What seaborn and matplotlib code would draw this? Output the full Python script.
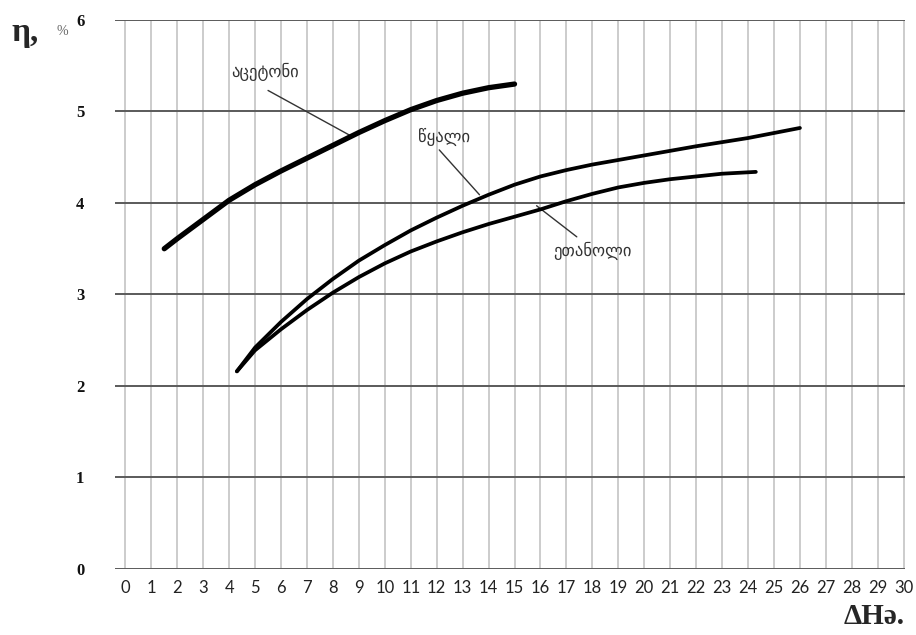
import pandas as pd
import numpy as np
import matplotlib
matplotlib.use('Agg')
import matplotlib.pyplot as plt
import seaborn as sns

# curves (dH vs efficiency, %)
acetone_x = [1.5, 2, 3, 4, 5, 6, 7, 8, 9, 10, 11, 12, 13, 14, 15]
acetone_y = [3.50, 3.61, 3.82, 4.03, 4.20, 4.35, 4.49, 4.63, 4.77, 4.90, 5.02, 5.12, 5.20, 5.26, 5.30]

water_x = [4.3, 5, 6, 7, 8, 9, 10, 11, 12, 13, 14, 15, 16, 17, 18, 20, 22, 24, 26]
water_y = [2.16, 2.42, 2.70, 2.95, 3.17, 3.37, 3.54, 3.70, 3.84, 3.97, 4.09, 4.20, 4.29, 4.36, 4.42, 4.52, 4.62, 4.71, 4.82]

ethanol_x = [4.3, 5, 6, 7, 8, 9, 10, 11, 12, 13, 14, 15, 16, 17, 18, 19, 20, 21, 22, 23, 24.3]
ethanol_y = [2.16, 2.39, 2.62, 2.83, 3.02, 3.19, 3.34, 3.47, 3.58, 3.68, 3.77, 3.85, 3.93, 4.02, 4.10, 4.17, 4.22, 4.26, 4.29, 4.32, 4.34]

names = ['აცეტონი', 'წყალი', 'ეთანოლი']
x_ticks = list(range(0, 31))
y_ticks = [0, 1, 2, 3, 4, 5, 6]

df = pd.concat([
    pd.DataFrame({'x': acetone_x, 'y': acetone_y, 'name': names[0]}),
    pd.DataFrame({'x': water_x, 'y': water_y, 'name': names[1]}),
    pd.DataFrame({'x': ethanol_x, 'y': ethanol_y, 'name': names[2]}),
])

sns.set_theme(style='white')
plt.rcParams['font.family'] = ['DejaVu Sans']

fig = plt.figure(figsize=(9.16, 6.35), dpi=100)
ax = fig.add_axes([0.1255, 0.104, 0.8625, 0.8645])

for x in x_ticks:
    ax.axvline(x, color='#c8c8c8', lw=1.3, zorder=0)
for y in y_ticks:
    ax.axhline(y, color='#5a5a5a', lw=1.4, zorder=1)

for name, lw in zip(names, [3.8, 2.7, 2.7]):
    sub = df[df['name'] == name]
    sns.lineplot(data=sub, x='x', y='y', color='black', lw=lw, ax=ax,
                 sort=False, zorder=3, solid_capstyle='round', solid_joinstyle='round')

ax.set_xlim(-0.4, 30.05)
ax.set_ylim(0, 6)
for s in ax.spines.values():
    s.set_visible(False)
ax.set_xticks(x_ticks)
ax.set_xticklabels([str(v) for v in x_ticks], fontsize=12, family='Lato', color='#222222')
ax.set_yticks(y_ticks)
ax.set_yticklabels([str(v) for v in y_ticks], fontsize=12, family='Liberation Serif',
                   fontweight='bold', color='#111111')
ax.tick_params(axis='x', length=0, pad=8)
ax.tick_params(axis='y', length=0, pad=22)
ax.set_xlabel('')
ax.set_ylabel('')

# curve labels with leader lines
ax.text(5.4, 5.43, names[0], fontsize=12, ha='center', va='center', color='#333333')
ax.plot([5.5, 8.65], [5.23, 4.74], color='#333333', lw=1)
ax.text(12.3, 4.72, names[1], fontsize=12, ha='center', va='center', color='#333333')
ax.plot([12.1, 13.65], [4.58, 4.09], color='#333333', lw=1)
ax.text(18.0, 3.48, names[2], fontsize=12, ha='center', va='center', color='#333333')
ax.plot([15.85, 17.4], [3.97, 3.63], color='#333333', lw=1)

fig.text(0.012, 0.935, 'η,', fontsize=24, family='Liberation Serif', fontweight='bold')
fig.text(0.062, 0.945, '%', fontsize=10, family='Liberation Serif', color='#666666')
fig.text(0.988, 0.018, 'ΔHə.', fontsize=21, family='Liberation Serif', fontweight='bold', ha='right')

fig.savefig('out.png', dpi=100)
